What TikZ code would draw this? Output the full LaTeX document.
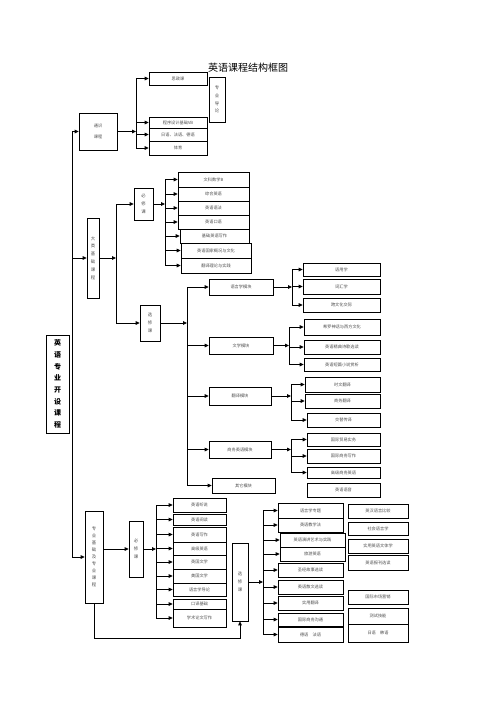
\documentclass[tikz,border=0pt]{standalone}
\usepackage{fontspec}
\setmainfont{Noto Sans CJK SC}
\usetikzlibrary{arrows.meta}
\newcommand\kcsmall{\fontsize{4.2}{5}\selectfont}
\newcommand\kcvert{\fontsize{4.4}{7.8}\selectfont}
\newcommand\kcmain{\fontsize{7}{11.7}\selectfont\bfseries}
\newcommand\kctitle{\fontsize{10}{12}\selectfont}
\tikzset{
  kcbox/.style={draw, line width=.7pt, inner sep=0pt, align=center, font=\kcsmall, text=black!70},
  kcvbox/.style={kcbox, font=\kcvert},
  kcsize/.style 2 args={minimum width=#1pt, minimum height=#2pt},
  kcline/.style={line width=.8pt},
  kcarr/.style={-{Triangle[length=4pt,width=3.6pt]}, line width=.8pt}
}

\begin{document}
\begin{tikzpicture}[x=1pt, y=-1pt]
  \useasboundingbox (0,0) rectangle (496,702);
  \node[font=\kctitle] (title) at (248,68) {英语课程结构框图};
  \node[kcbox, kcsize={23}{98}, font=\kcmain, text=black] (main) at (57.5,384) {英\\语\\专\\业\\开\\设\\课\\程};
  % bus lines
  \coordinate (tr) at (72,0);
  \coordinate (b1) at (136,0);
  \coordinate (b2) at (116,0);
  \coordinate (b3) at (165,0);
  \coordinate (b4) at (187,0);
  \coordinate (b5) at (156,0);
  \coordinate (b6) at (263,0);
  \coordinate (m1) at (292,0);
  \coordinate (m2) at (289,0);
  \coordinate (m3) at (291,0);
  \coordinate (lp) at (0,638);

  % general courses
  \node[kcbox, kcsize={38}{37}] (ts) at (98,131.5) {通识\\[6pt]课程};
  \node[kcbox, kcsize={58}{13}] (sz) at (178,78.5) {思政课};
  \node[kcvbox, kcsize={16}{45}] (dlun) at (217,99.5) {专\\业\\导\\论};
  \node[kcbox, kcsize={58}{11}] (cx) at (178,122.5) {程序设计基础VB};
  \node[kcbox, kcsize={58}{13}] (wy) at (178,134.5) {日语、法语、德语};
  \node[kcbox, kcsize={58}{14}] (ty) at (178,148) {体育};

  % basic courses
  \node[kcvbox, kcsize={12}{80}] (dl) at (93,258) {大\\类\\基\\础\\课\\程};
  \node[kcvbox, kcsize={19}{32}] (bx1) at (143.5,204) {必\\修\\课};
  \node[kcbox, kcsize={71}{15}] (c1) at (213.5,179.5) {文科数学B};
  \node[kcbox, kcsize={71}{14}] (c2) at (213.5,194) {综合英语};
  \node[kcbox, kcsize={71}{14}] (c3) at (213.5,208) {英语语法};
  \node[kcbox, kcsize={71}{14}] (c4) at (213.5,222) {英语口语};
  \node[kcbox, kcsize={69}{14}] (c5) at (214.5,236) {基础英语写作};
  \node[kcbox, kcsize={70}{15}] (c6) at (216,250.5) {英语国家概况与文化};
  \node[kcbox, kcsize={70}{15}] (c7) at (216,265.5) {翻译理论与实践};
  \node[kcvbox, kcsize={20}{36}] (xx1) at (150,323) {选\\修\\课};

  % modules
  \node[kcbox, kcsize={64}{16}] (yyx) at (241,287) {语言学模块};
  \node[kcbox, kcsize={64}{17}] (wx) at (241,345.5) {文学模块};
  \node[kcbox, kcsize={62}{18}] (fy) at (240,396) {翻译模块};
  \node[kcbox, kcsize={62}{17}] (sw) at (240,449.5) {商务英语模块};
  \node[kcbox, kcsize={63}{15}] (qt) at (243.5,485.5) {其它模块};

  \node[kcbox, kcsize={77}{13}] (y1) at (341.5,269.5) {语用学};
  \node[kcbox, kcsize={77}{15}] (y2) at (341.5,286.5) {词汇学};
  \node[kcbox, kcsize={77}{14}] (y3) at (341.5,305) {跨文化交际};
  \node[kcbox, kcsize={76}{16}] (w1) at (342,327) {希罗神话与西方文化};
  \node[kcbox, kcsize={76}{14}] (w2) at (342,347) {英语精典诗歌选读};
  \node[kcbox, kcsize={76}{13}] (w3) at (342,364.5) {英语短篇小说赏析};
  \node[kcbox, kcsize={75}{15}] (f1) at (342.5,384.5) {时文翻译};
  \node[kcbox, kcsize={75}{14}] (f2) at (342.5,401) {商务翻译};
  \node[kcbox, kcsize={73}{14}] (f3) at (343.5,420) {交替传译};
  \node[kcbox, kcsize={73}{13}] (s1) at (343.5,439.5) {国际贸易实务};
  \node[kcbox, kcsize={73}{14}] (s2) at (343.5,456) {国际商务写作};
  \node[kcbox, kcsize={73}{11}] (s3) at (343.5,472.5) {高级商务英语};
  \node[kcbox, kcsize={73}{14}] (q1) at (343.5,490) {英语语音};

  % specialised courses
  \node[kcvbox, kcsize={18}{92}, font=\fontsize{4.4}{7}\selectfont] (zj) at (94,557) {专\\业\\基\\础\\及\\专\\业\\课\\程};
  \node[kcvbox, kcsize={14}{56}] (bx2) at (136,549) {必\\修\\课};
  \node[kcbox, kcsize={53}{14}] (d1) at (199.5,505) {英语听说};
  \node[kcbox, kcsize={53}{11}] (d2) at (199.5,519.5) {英语阅读};
  \node[kcbox, kcsize={53}{15}] (d3) at (199.5,534.5) {英语写作};
  \node[kcbox, kcsize={53}{13}] (d4) at (199.5,548.5) {高级英语};
  \node[kcbox, kcsize={53}{14}] (d5) at (199.5,562) {英国文学};
  \node[kcbox, kcsize={53}{14}] (d6) at (199.5,576) {美国文学};
  \node[kcbox, kcsize={53}{13}] (d7) at (199.5,589.5) {语言学导论};
  \node[kcbox, kcsize={53}{10}] (d8) at (199.5,604) {口译基础};
  \node[kcbox, kcsize={53}{18}] (d9) at (199.5,618) {学术论文写作};
  \node[kcvbox, kcsize={16}{78}] (xx2) at (240,582) {选\\修\\课};
  \node[kcbox, kcsize={65}{15}] (e1) at (310.5,510.5) {语言学专题};
  \node[kcbox, kcsize={65}{14}] (e2) at (310.5,525) {英语教学法};
  \node[kcbox, kcsize={65}{14}] (e3) at (312.5,540) {英语演讲艺术与实践};
  \node[kcbox, kcsize={65}{14}] (e4) at (312.5,554) {旅游英语};
  \node[kcbox, kcsize={65}{14}] (e5) at (310.5,570) {圣经故事选读};
  \node[kcbox, kcsize={65}{14}] (e6) at (310.5,587) {英语散文选读};
  \node[kcbox, kcsize={65}{14}] (e7) at (310.5,603) {实用翻译};
  \node[kcbox, kcsize={65}{13}] (e8) at (310.5,619.5) {国际商务沟通};
  \node[kcbox, kcsize={65}{15}] (e9) at (310.5,634.5) {德语\quad 法语};
  \node[kcbox, kcsize={60}{14}] (g1) at (378,511) {英汉语言比较};
  \node[kcbox, kcsize={60}{13}] (g2) at (378,528.5) {社会语言学};
  \node[kcbox, kcsize={60}{14}] (g3) at (378,546) {实用英语文体学};
  \node[kcbox, kcsize={60}{15}] (g4) at (378,562.5) {英语报刊选读};
  \node[kcbox, kcsize={60}{14}] (g5) at (378,597) {国际市场营销};
  \node[kcbox, kcsize={60}{16}] (g6) at (378,616) {测试技能};
  \node[kcbox, kcsize={60}{18}] (g7) at (378,633) {日语\quad 韩语};

  % trunk
  \draw[kcline] (tr |- ts.west) -- (tr |- zj.west);
  \draw[kcarr] (tr |- ts.west) -- (ts.west);
  \draw[kcarr] (tr |- dl.west) -- (dl.west);
  \draw[kcarr] (tr |- zj.west) -- (zj.west);

  \draw[kcarr] (ts.east) -- (b1 |- ts.east);
  \draw[kcline] (b1 |- sz.west) -- (b1 |- ty.west);
  \draw[kcarr] (b1 |- sz.west) -- (sz.west);
  \draw[kcarr] (b1 |- cx.west) -- (cx.west);
  \draw[kcarr] (b1 |- wy.west) -- (wy.west);
  \draw[kcarr] (b1 |- ty.west) -- (ty.west);

  \draw[kcarr] (dl.east) -- (b2 |- dl.east);
  \draw[kcline] (b2 |- bx1.west) -- (b2 |- xx1.west);
  \draw[kcarr] (b2 |- bx1.west) -- (bx1.west);
  \draw[kcarr] (b2 |- xx1.west) -- (xx1.west);

  \draw[kcarr] (bx1.east) -- (b3 |- bx1.east);
  \draw[kcline] (b3 |- c1.west) -- (b3 |- c7.west);
  \draw[kcarr] (b3 |- c1.west) -- (c1.west);
  \draw[kcarr] (b3 |- c2.west) -- (c2.west);
  \draw[kcarr] (b3 |- c3.west) -- (c3.west);
  \draw[kcarr] (b3 |- c4.west) -- (c4.west);
  \draw[kcarr] (b3 |- c5.west) -- (c5.west);
  \draw[kcarr] (b3 |- c6.west) -- (c6.west);
  \draw[kcarr] (b3 |- c7.west) -- (c7.west);

  \draw[kcarr] (xx1.east) -- (b4 |- xx1.east);
  \draw[kcline] (b4 |- yyx.west) -- (b4 |- qt.west);
  \draw[kcarr] (b4 |- yyx.west) -- (yyx.west);
  \draw[kcarr] (b4 |- wx.west) -- (wx.west);
  \draw[kcarr] (b4 |- fy.west) -- (fy.west);
  \draw[kcarr] (b4 |- sw.west) -- (sw.west);
  \draw[kcarr] (b4 |- qt.west) -- (qt.west);

  \draw[kcarr] (yyx.east) -- (m1 |- yyx.east);
  \draw[kcline] (m1 |- y1.west) -- (m1 |- y3.west);
  \draw[kcarr] (m1 |- y1.west) -- (y1.west);
  \draw[kcarr] (m1 |- y2.west) -- (y2.west);
  \draw[kcarr] (m1 |- y3.west) -- (y3.west);
  \draw[kcarr] (wx.east) -- (m2 |- wx.east);
  \draw[kcline] (m2 |- w1.west) -- (m2 |- w3.west);
  \draw[kcarr] (m2 |- w1.west) -- (w1.west);
  \draw[kcarr] (m2 |- w2.west) -- (w2.west);
  \draw[kcarr] (m2 |- w3.west) -- (w3.west);
  \draw[kcarr] (fy.east) -- (m3 |- fy.east);
  \draw[kcline] (m3 |- f1.west) -- (m3 |- f3.west);
  \draw[kcarr] (m3 |- f1.west) -- (f1.west);
  \draw[kcarr] (m3 |- f2.west) -- (f2.west);
  \draw[kcarr] (m3 |- f3.west) -- (f3.west);
  \draw[kcarr] (sw.east) -- (m3 |- sw.east);
  \draw[kcline] (m3 |- s1.west) -- (m3 |- s3.west);
  \draw[kcarr] (m3 |- s1.west) -- (s1.west);
  \draw[kcarr] (m3 |- s2.west) -- (s2.west);
  \draw[kcarr] (m3 |- s3.west) -- (s3.west);

  \draw[kcarr] (zj.east |- bx2.west) -- (bx2.west);
  \draw[kcarr] (bx2.east) -- (b5 |- bx2.east);
  \draw[kcline] (b5 |- d1.west) -- (b5 |- d9.west);
  \draw[kcarr] (b5 |- d1.west) -- (d1.west);
  \draw[kcarr] (b5 |- d2.west) -- (d2.west);
  \draw[kcarr] (b5 |- d3.west) -- (d3.west);
  \draw[kcarr] (b5 |- d4.west) -- (d4.west);
  \draw[kcarr] (b5 |- d5.west) -- (d5.west);
  \draw[kcarr] (b5 |- d6.west) -- (d6.west);
  \draw[kcarr] (b5 |- d7.west) -- (d7.west);
  \draw[kcarr] (b5 |- d8.west) -- (d8.west);
  \draw[kcarr] (b5 |- d9.west) -- (d9.west);

  \draw[kcarr] (zj.south) -- (zj.south |- lp) -- (xx2.south |- lp) -- (xx2.south);
  \draw[kcarr] (xx2.east) -- (b6 |- xx2.east);
  \draw[kcline] (b6 |- e1.west) -- (b6 |- e9.west);
  \draw[kcarr] (b6 |- e1.west) -- (e1.west);
  \draw[kcarr] (b6 |- e2.west) -- (e2.west);
  \draw[kcarr] (b6 |- e3.west) -- (e3.west);
  \draw[kcarr] (b6 |- e4.west) -- (e4.west);
  \draw[kcarr] (b6 |- e5.west) -- (e5.west);
  \draw[kcarr] (b6 |- e6.west) -- (e6.west);
  \draw[kcarr] (b6 |- e7.west) -- (e7.west);
  \draw[kcarr] (b6 |- e8.west) -- (e8.west);
  \draw[kcarr] (b6 |- e9.west) -- (e9.west);
\end{tikzpicture}
\end{document}
